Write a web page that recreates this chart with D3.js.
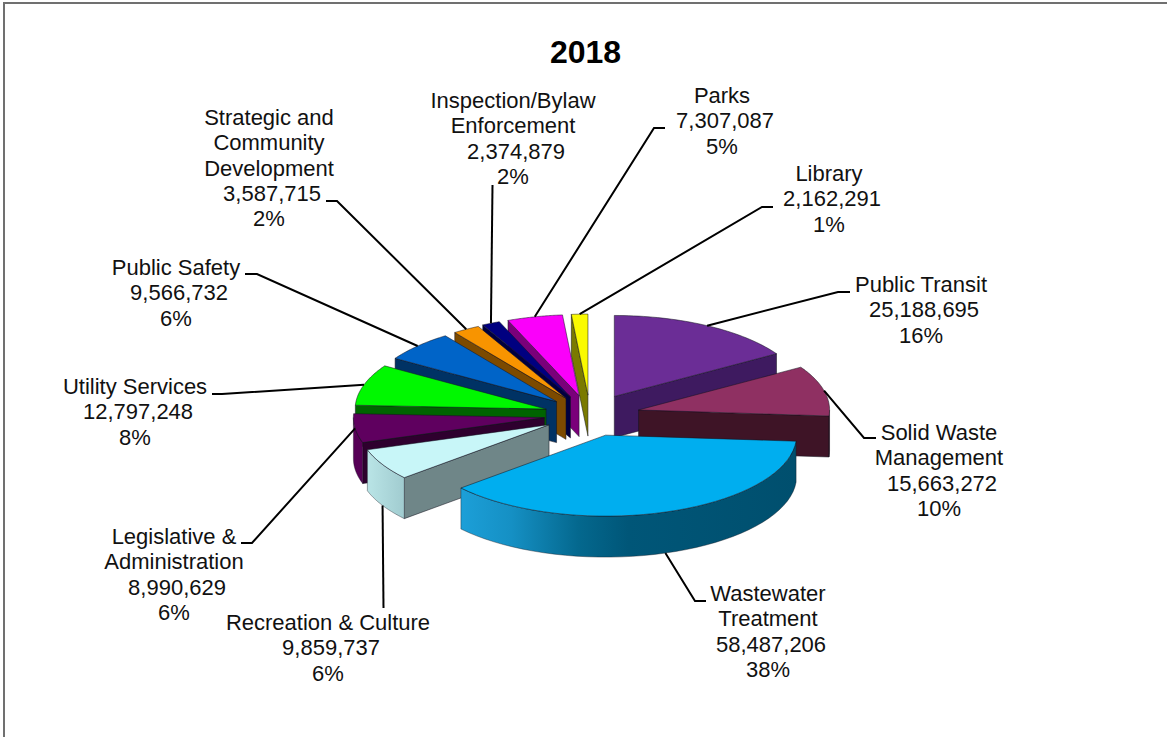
<!DOCTYPE html>
<html>
<head>
<meta charset="utf-8">
<script src="https://cdn.jsdelivr.net/npm/d3@7/dist/d3.min.js"></script>
<style>
html,body{margin:0;padding:0;background:#fff;}
svg{display:block;}
text{font-family:"Liberation Sans",Arial,sans-serif;fill:#111;}
</style>
</head>
<body>
<svg id="chart" width="1167" height="737"></svg>
<script>
// ---- data ----
const chartTitle = "2018";
const categories = ["Public Transit","Solid Waste Management","Wastewater Treatment","Recreation & Culture","Legislative & Administration","Utility Services","Public Safety","Strategic and Community Development","Inspection/Bylaw Enforcement","Parks","Library"];
const values = [25188695,15663272,58487206,9859737,8990629,12797248,9566732,3587715,2374879,7307087,2162291];
const percents = ["16%","10%","38%","6%","6%","8%","6%","2%","2%","5%","1%"];
const nameLines = [["Public Transit"],["Solid Waste","Management"],["Wastewater","Treatment"],["Recreation & Culture"],["Legislative &","Administration"],["Utility Services"],["Public Safety"],["Strategic and","Community","Development"],["Inspection/Bylaw","Enforcement"],["Parks"],["Library"]];

// ---- styles ----
const topColors = ["#6B2D96","#8F3062","#00AEEF","#C8F6F8","#5F005F","#00F800","#0064C8","#F89400","#000080","#FA00FA","#FAFA00"];
const wallColors = ["#3E1A60","#3E1426","#004F6E","#6F8688","#2E002E","#006400","#003264","#7C4A00","#000040","#7A007A","#7A7A00"];
const arcColors = ["#3E1A60","#3E1426","url(#wwArc)","url(#rcArc)","#560056","#006400","#003264","#7C4A00","#000040","#7A007A","#7A7A00"];
const paintOrder = [0,10,9,8,7,6,5,4,1,3,2];

// ---- layout ----
const labelCenterX = [921,939,768,328,174,135,176,269,513,722,829];
const labelFirstY  = [292,440,601,630,544,394,275,125,108,103,181];
const leaderElbow  = [[838,292],[864,438],[695,601],[383.5,608],[252,543],[222,394],[257,274],[337,201],[492.5,185],[654,128],[762,207]];
const leaderEnd    = [[850,292],[876,438],[706,601],null,[241,543],[212,394],[245,274],[326,201],null,[665,128],[773,207]];
const explodeBy    = [50,50,50,47,46,46,46,46,47,47,47];
const lineStep = 25.35, fontSize = 22;
const centerX = 590, centerY = 415, radiusX = 191, radiusY = 81, depth = 41;

const sx = d3.scaleLinear().domain([-1,1]).range([centerX-radiusX,centerX+radiusX]);
const sy = d3.scaleLinear().domain([-1,1]).range([centerY-radiusY,centerY+radiusY]);
const line = d3.line();
const svg = d3.select("#chart");

// gradients
const defs = svg.append("defs");
function hGrad(id,x1,x2,stops){
  const g = defs.append("linearGradient").attr("id",id).attr("gradientUnits","userSpaceOnUse")
    .attr("x1",x1).attr("x2",x2).attr("y1",0).attr("y2",0);
  stops.forEach(s=>g.append("stop").attr("offset",s[0]).attr("stop-color",s[1]));
}
hGrad("wwArc",461,796,[[0,"#1C9FD8"],[0.15,"#1590C4"],[0.35,"#04688E"],[0.5,"#005678"],[1,"#004F6E"]]);
hGrad("rcArc",368,405,[[0,"#B9E4E6"],[1,"#A0CBCF"]]);

// chart frame
svg.append("path").attr("d",line([[4,737],[4,3],[1167,3]]))
  .attr("fill","none").attr("stroke","#707070").attr("stroke-width",2);

// title
svg.append("text").attr("x",585.5).attr("y",63).attr("text-anchor","middle")
  .attr("font-size",32).attr("font-weight","bold").style("fill","#000").text(chartTitle);

// slices
const arcs = d3.pie().sort(null).value(d=>d).startAngle(0).endAngle(2*Math.PI)(values);
const fmt = d3.format(",");
const slices = arcs.map((a,i)=>{
  const mid = (a.startAngle+a.endAngle)/2;
  const e = explodeBy[i]/radiusX;
  const ox = e*Math.sin(mid), oy = -e*Math.cos(mid);
  const pt = (ang,r,dz)=>[sx(ox+r*Math.sin(ang)), sy(oy-r*Math.cos(ang))+(dz||0)];
  return {a,i,mid,pt};
});
const stroke = "rgba(20,20,30,0.65)";

paintOrder.forEach(i=>{
  const {a,pt} = slices[i];
  const s0=a.startAngle, s1=a.endAngle, g=svg.append("g");
  const steps = d3.range(0,41).map(k=>s0+(s1-s0)*k/40);
  // radial walls, visible only if they face the viewer
  const wall = ang => [pt(ang,0),pt(ang,1),pt(ang,1,depth),pt(ang,0,depth)];
  if(Math.sin(s1)>0) g.append("path").attr("d",line(wall(s1))+"Z").attr("fill",wallColors[i]).attr("stroke",stroke).attr("stroke-width",0.8);
  if(Math.sin(s0)<0) g.append("path").attr("d",line(wall(s0))+"Z").attr("fill",wallColors[i]).attr("stroke",stroke).attr("stroke-width",0.8);
  // outer rim: front half only
  const lo = Math.max(s0,Math.PI/2), hi = Math.min(s1,3*Math.PI/2);
  if(hi>lo){
    const rim = d3.range(0,41).map(k=>lo+(hi-lo)*k/40);
    const pts = rim.map(t=>pt(t,1)).concat(rim.slice().reverse().map(t=>pt(t,1,depth)));
    g.append("path").attr("d",line(pts)+"Z").attr("fill",arcColors[i]).attr("stroke",stroke).attr("stroke-width",0.6);
  }
  // top face
  g.append("path").attr("d",line([pt(s0,0)].concat(steps.map(t=>pt(t,1))))+"Z")
    .attr("fill",topColors[i]).attr("stroke",stroke).attr("stroke-width",0.8);
});

// leaders and labels
slices.forEach(({mid,pt,i})=>{
  const front = Math.cos(mid)<0;
  const start = pt(mid,1,front && Math.abs(Math.sin(mid))<0.95 ? depth : 0);
  const pts = [start,leaderElbow[i]];
  if(leaderEnd[i]) pts.push(leaderEnd[i]);
  svg.append("path").attr("d",line(pts)).attr("fill","none").attr("stroke","#000").attr("stroke-width",2);
  const rows = nameLines[i].concat(["\u00a0"+fmt(values[i]),percents[i]]);
  const t = svg.append("text").attr("text-anchor","middle").attr("font-size",fontSize).style("white-space","pre");
  rows.forEach((r,k)=>t.append("tspan").attr("x",labelCenterX[i]).attr("y",labelFirstY[i]+k*lineStep).text(r));
});
</script>
</body>
</html>
